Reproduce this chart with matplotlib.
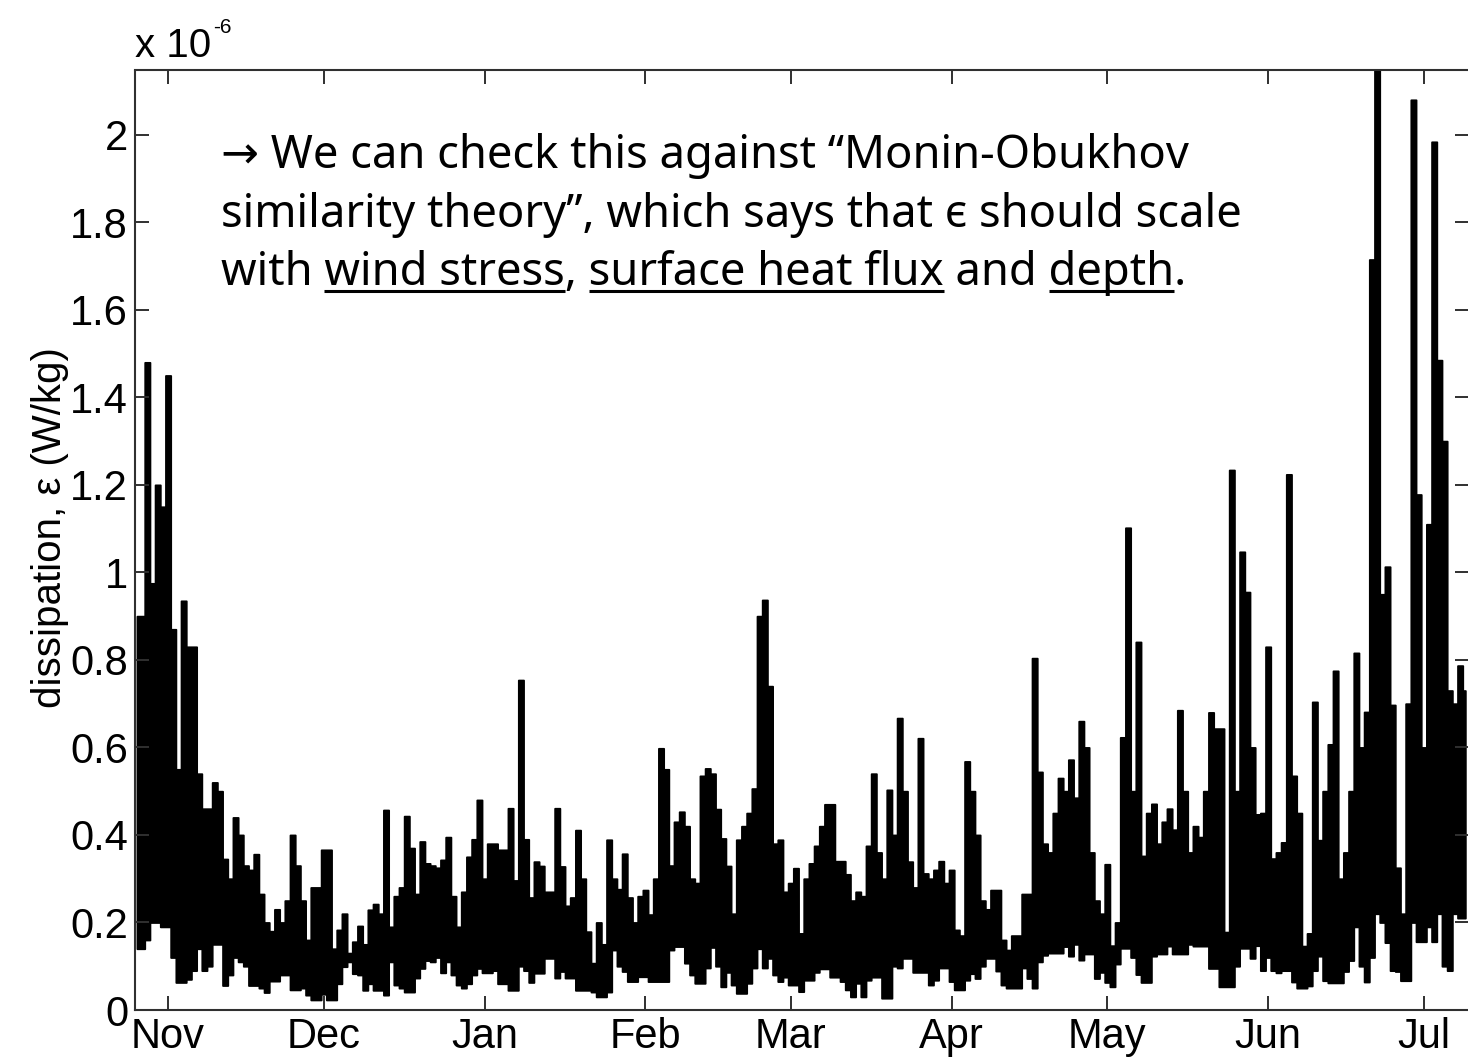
import datetime as dt

import matplotlib
matplotlib.use("Agg")
import matplotlib.pyplot as plt
import matplotlib.dates as mdates
from matplotlib.ticker import FixedLocator, FuncFormatter
from matplotlib.lines import Line2D

# Turbulent dissipation, daily high / low values (units of 1e-6 W/kg),
# one entry per day starting 26 Oct 2002.
first_day = dt.datetime(2002, 10, 26)

daily_max = [
    0.90, 0.90, 1.48, 0.975, 1.20, 1.15, 1.45, 0.87, 0.55, 0.935,   # Oct 26 - Nov 4
    0.83, 0.83, 0.54, 0.46, 0.46, 0.52, 0.50, 0.345, 0.30, 0.44,    # Nov 5 - 14
    0.40, 0.33, 0.32, 0.356, 0.265, 0.20, 0.18, 0.23, 0.20, 0.25,   # Nov 15 - 24
    0.40, 0.33, 0.25, 0.16, 0.28, 0.28, 0.366, 0.366, 0.14, 0.183,  # Nov 25 - Dec 4
    0.22, 0.13, 0.156, 0.192, 0.15, 0.229, 0.242, 0.22, 0.457, 0.19,  # Dec 5 - 14
    0.26, 0.28, 0.443, 0.37, 0.265, 0.385, 0.335, 0.33, 0.325, 0.343,  # Dec 15 - 24
    0.395, 0.26, 0.19, 0.27, 0.35, 0.39, 0.48, 0.30, 0.38, 0.38,    # Dec 25 - Jan 3
    0.366, 0.366, 0.461, 0.296, 0.754, 0.39, 0.257, 0.339, 0.329, 0.27,  # Jan 4 - 13
    0.27, 0.461, 0.328, 0.238, 0.257, 0.411, 0.30, 0.179, 0.107, 0.20,  # Jan 14 - 23
    0.15, 0.389, 0.30, 0.276, 0.357, 0.257, 0.20, 0.26, 0.274, 0.218,  # Jan 24 - Feb 2
    0.30, 0.598, 0.55, 0.33, 0.43, 0.453, 0.42, 0.30, 0.29, 0.535,  # Feb 3 - 12
    0.552, 0.54, 0.459, 0.392, 0.329, 0.22, 0.389, 0.42, 0.45, 0.506,  # Feb 13 - 22
    0.90, 0.937, 0.74, 0.38, 0.389, 0.27, 0.29, 0.324, 0.175, 0.30,  # Feb 23 - Mar 4
    0.335, 0.375, 0.42, 0.47, 0.47, 0.34, 0.34, 0.31, 0.25, 0.27,   # Mar 5 - 14
    0.26, 0.375, 0.54, 0.36, 0.30, 0.503, 0.40, 0.667, 0.50, 0.339,  # Mar 15 - 24
    0.28, 0.621, 0.312, 0.30, 0.32, 0.34, 0.29, 0.32, 0.183, 0.17,  # Mar 25 - Apr 3
    0.568, 0.50, 0.40, 0.25, 0.23, 0.274, 0.274, 0.16, 0.137, 0.17,  # Apr 4 - 13
    0.17, 0.265, 0.265, 0.804, 0.544, 0.38, 0.36, 0.45, 0.53, 0.50,  # Apr 14 - 23
    0.572, 0.485, 0.66, 0.60, 0.36, 0.25, 0.22, 0.333, 0.147, 0.20,  # Apr 24 - May 3
    0.623, 1.102, 0.50, 0.841, 0.352, 0.45, 0.471, 0.38, 0.43, 0.46,  # May 4 - 13
    0.412, 0.685, 0.50, 0.36, 0.42, 0.395, 0.50, 0.68, 0.643, 0.643,  # May 14 - 23
    0.178, 1.234, 0.50, 1.047, 0.955, 0.60, 0.447, 0.45, 0.83, 0.346,  # May 24 - Jun 2
    0.36, 0.383, 1.224, 0.535, 0.45, 0.146, 0.175, 0.704, 0.388, 0.50,  # Jun 3 - 12
    0.607, 0.775, 0.30, 0.36, 0.50, 0.816, 0.60, 0.681, 1.715, 2.40,  # Jun 13 - 22
    0.95, 1.013, 0.697, 0.325, 0.22, 0.70, 2.08, 1.178, 0.60, 1.11,  # Jun 23 - Jul 2
    1.984, 1.485, 1.30, 0.73, 0.70, 0.787, 0.73,                    # Jul 3 - 9
]

daily_min = [
    0.14, 0.14, 0.16, 0.20, 0.20, 0.19, 0.19, 0.12, 0.063, 0.063,
    0.07, 0.09, 0.14, 0.09, 0.10, 0.15, 0.15, 0.056, 0.08, 0.12,
    0.11, 0.10, 0.056, 0.056, 0.05, 0.04, 0.066, 0.066, 0.08, 0.08,
    0.046, 0.046, 0.05, 0.034, 0.023, 0.023, 0.036, 0.023, 0.023, 0.06,
    0.099, 0.11, 0.083, 0.08, 0.045, 0.06, 0.045, 0.045, 0.034, 0.11,
    0.057, 0.05, 0.041, 0.041, 0.073, 0.095, 0.113, 0.11, 0.12, 0.085,
    0.11, 0.08, 0.057, 0.05, 0.06, 0.08, 0.095, 0.085, 0.085, 0.09,
    0.06, 0.06, 0.045, 0.045, 0.10, 0.09, 0.063, 0.084, 0.084, 0.118,
    0.118, 0.073, 0.088, 0.073, 0.073, 0.045, 0.045, 0.045, 0.041, 0.03,
    0.03, 0.041, 0.137, 0.10, 0.088, 0.065, 0.065, 0.076, 0.076, 0.065,
    0.065, 0.065, 0.065, 0.137, 0.145, 0.145, 0.107, 0.08, 0.061, 0.061,
    0.096, 0.143, 0.10, 0.053, 0.086, 0.057, 0.038, 0.038, 0.061, 0.096,
    0.14, 0.096, 0.118, 0.08, 0.065, 0.075, 0.057, 0.057, 0.042, 0.068,
    0.068, 0.086, 0.094, 0.094, 0.075, 0.075, 0.065, 0.046, 0.03, 0.061,
    0.03, 0.068, 0.075, 0.075, 0.027, 0.027, 0.10, 0.096, 0.118, 0.118,
    0.086, 0.086, 0.086, 0.057, 0.068, 0.096, 0.096, 0.065, 0.046, 0.046,
    0.068, 0.083, 0.072, 0.10, 0.118, 0.118, 0.089, 0.057, 0.05, 0.05,
    0.05, 0.096, 0.072, 0.05, 0.11, 0.125, 0.13, 0.13, 0.13, 0.145,
    0.123, 0.15, 0.114, 0.128, 0.128, 0.072, 0.086, 0.063, 0.053, 0.105,
    0.141, 0.141, 0.12, 0.081, 0.063, 0.063, 0.123, 0.128, 0.128, 0.146,
    0.128, 0.128, 0.128, 0.15, 0.146, 0.146, 0.146, 0.095, 0.095, 0.053,
    0.053, 0.053, 0.10, 0.141, 0.141, 0.118, 0.147, 0.09, 0.12, 0.09,
    0.085, 0.09, 0.09, 0.064, 0.05, 0.05, 0.055, 0.09, 0.123, 0.067,
    0.062, 0.062, 0.062, 0.088, 0.113, 0.19, 0.10, 0.064, 0.12, 0.22,
    0.20, 0.154, 0.09, 0.088, 0.067, 0.067, 0.20, 0.156, 0.156, 0.19,
    0.156, 0.22, 0.10, 0.09, 0.22, 0.21, 0.21,
]

ytick_values = [0, 0.2, 0.4, 0.6, 0.8, 1.0, 1.2, 1.4, 1.6, 1.8, 2.0]
y_max = 2.147
x_start = dt.datetime(2002, 10, 25, 15)
x_end = dt.datetime(2003, 7, 9, 17)

ylabel_text = "dissipation, \u03b5 (W/kg)"
note_lines = [
    "\u2192 We can check this against \u201cMonin-Obukhov",
    "similarity theory\u201d, which says that \u03f5 should scale",
    "with wind stress, surface heat flux and depth.",
]
underlined = ["wind stress", "surface heat flux", "depth"]

W, H = 1468, 1063
tick_font = "Liberation Sans"
axis_color = "#303030"

fig = plt.figure(figsize=(W / 100, H / 100), dpi=100)
fig.patch.set_facecolor("white")
ax = fig.add_axes([135 / W, 1 - 1010 / H, (1469 - 135) / W, (1010 - 70.5) / H])

days = [first_day + dt.timedelta(days=i) for i in range(len(daily_max))]

# daily range of dissipation drawn as a solid stepped band
ax.fill_between(days, daily_min, daily_max, step="mid", facecolor="black",
                edgecolor="black", linewidth=1.3)

ax.set_xlim(x_start, x_end)
ax.set_ylim(0, y_max)
ax.xaxis.set_major_locator(mdates.MonthLocator())
ax.xaxis.set_major_formatter(mdates.DateFormatter("%b"))
ax.yaxis.set_major_locator(FixedLocator(ytick_values))
ax.yaxis.set_major_formatter(FuncFormatter(lambda v, p: f"{v:g}"))

ax.tick_params(axis="both", which="major", direction="in", length=10,
               width=1.4, color=axis_color, top=True, right=True,
               labelsize=30, pad=5, labelcolor="black")
for lab in ax.get_xticklabels() + ax.get_yticklabels():
    lab.set_fontfamily(tick_font)
for sp in ax.spines.values():
    sp.set_color(axis_color)
    sp.set_linewidth(1.5)

# exponent marker above the y axis
fig.text(135 / W, 1 - 57 / H, "x 10", fontsize=29, family=tick_font,
         ha="left", va="baseline")
fig.text(213 / W, 1 - 33 / H, "-6", fontsize=15, family=tick_font,
         ha="left", va="baseline")

fig.text(50 / W, 1 - 528 / H, ylabel_text, fontsize=29, family=tick_font,
         rotation=90, ha="center", va="center")

# annotation text, sized so the second line spans its measured width
note_font = ["Noto Sans", "DejaVu Sans"]
renderer = fig.canvas.get_renderer()
probe = fig.text(0, 0, note_lines[1], fontsize=30, family=note_font)
w = probe.get_window_extent(renderer).width
probe.remove()
note_size = 30 * 1020 / w

x0 = 221
baselines = [168, 226.5, 285]
for line, yb in zip(note_lines, baselines):
    fig.text(x0 / W, 1 - yb / H, line, fontsize=note_size, family=note_font,
             ha="left", va="baseline", color="black")


def text_width(s):
    t = fig.text(0, 0, s, fontsize=note_size, family=note_font)
    wd = t.get_window_extent(renderer).width
    t.remove()
    return wd


space_w = text_width("a a") - text_width("aa")
last = note_lines[2]
for word in underlined:
    start = last.index(word)
    prefix = last[:start]
    stripped = prefix.rstrip()
    n_sp = len(prefix) - len(stripped)
    left = x0 + text_width(stripped) + n_sp * space_w
    right = left + text_width(word)
    yline = 1 - 290.5 / H
    fig.add_artist(Line2D([left / W, right / W], [yline, yline],
                          transform=fig.transFigure, color="black", lw=2.2,
                          solid_capstyle="butt"))

fig.savefig("out.png", dpi=100, facecolor="white")
